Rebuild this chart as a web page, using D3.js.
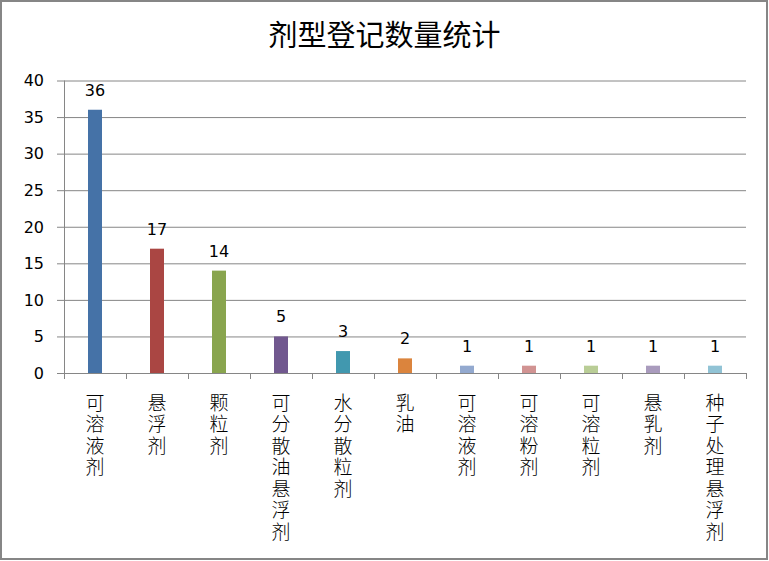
<!DOCTYPE html>
<meta charset="utf-8">
<script src="https://d3js.org/d3.v7.min.js"></script>
<style>
  body { margin: 0; background: #fff; }
  text { fill: #000; }
</style>
<body>
<div id="chart"></div>
<script>
  var categories = ["可溶液剂", "悬浮剂", "颗粒剂", "可分散油悬浮剂", "水分散粒剂", "乳油",
                    "可溶液剂", "可溶粉剂", "可溶粒剂", "悬乳剂", "种子处理悬浮剂"];
  var counts = [36, 17, 14, 5, 3, 2, 1, 1, 1, 1, 1];
  var colors = ["#4572A7", "#AA4643", "#89A54E", "#71588F", "#4198AF", "#DB843D",
                "#93A9CF", "#D19392", "#B9CD96", "#A99BBD", "#91C3D5"];
  var yTicks = [0, 5, 10, 15, 20, 25, 30, 35, 40];

  var W = 769, H = 561;
  var plot = {left: 64, right: 746, top: 80.5, bottom: 373};

  var svg = d3.select("#chart").append("svg")
      .attr("width", W)
      .attr("height", H);

  // outer frame
  svg.append("rect")
    .attr("x", 1).attr("y", 1)
    .attr("width", W - 3).attr("height", H - 3)
    .attr("fill", "#fff")
    .attr("stroke", "#868686")
    .attr("stroke-width", 2);

  // title
  svg.append("text")
    .attr("x", W / 2)
    .attr("y", 46)
    .attr("text-anchor", "middle")
    .style("font-family", "'Noto Sans CJK SC', sans-serif")
    .style("font-size", "29px")
    .text("剂型登记数量统计");

  var x = d3.scaleBand()
    .domain(d3.range(categories.length))
    .range([plot.left, plot.right]);

  var y = d3.scaleLinear()
    .domain([0, 40])
    .range([plot.bottom, plot.top]);

  // gridlines
  svg.append("g").selectAll("line")
    .data(yTicks)
    .enter().append("line")
      .attr("x1", plot.left - 7)
      .attr("x2", plot.right)
      .attr("y1", d => y(d) + 0.5)
      .attr("y2", d => y(d) + 0.5)
      .attr("stroke", "#868686")
      .attr("stroke-width", 1);

  // y tick labels
  svg.append("g").selectAll("text")
    .data(yTicks)
    .enter().append("text")
      .attr("x", 44)
      .attr("y", d => y(d))
      .attr("dy", "0.36em")
      .attr("text-anchor", "end")
      .style("font-family", "'DejaVu Sans', sans-serif")
      .style("font-size", "16px")
      .text(d => d);

  // y axis line
  svg.append("line")
    .attr("x1", plot.left + 0.5).attr("x2", plot.left + 0.5)
    .attr("y1", plot.top).attr("y2", plot.bottom + 0.5)
    .attr("stroke", "#868686");

  // x axis tick marks at band edges
  var edges = d3.range(categories.length).map(i => x(i)).concat([x.range()[1]]);
  svg.append("g").selectAll("line")
    .data(edges)
    .enter().append("line")
      .attr("x1", d => Math.round(d) + 0.5)
      .attr("x2", d => Math.round(d) + 0.5)
      .attr("y1", plot.bottom)
      .attr("y2", plot.bottom + 6)
      .attr("stroke", "#868686");

  // bars
  var barW = 14;
  svg.append("g").selectAll("rect")
    .data(counts)
    .enter().append("rect")
      .attr("x", (d, i) => x(i) + x.bandwidth() / 2 - barW / 2)
      .attr("y", d => y(d))
      .attr("width", barW)
      .attr("height", d => y(0) - y(d))
      .attr("fill", (d, i) => colors[i]);

  // value labels
  svg.append("g").selectAll("text")
    .data(counts)
    .enter().append("text")
      .attr("x", (d, i) => x(i) + x.bandwidth() / 2)
      .attr("y", d => y(d) - 14)
      .attr("text-anchor", "middle")
      .style("font-family", "'DejaVu Sans', sans-serif")
      .style("font-size", "16px")
      .text(d => d);

  // vertical category labels, one character per line
  var labels = svg.append("g").selectAll("text")
    .data(categories)
    .enter().append("text")
      .attr("text-anchor", "middle")
      .style("font-family", "'Noto Sans CJK SC', sans-serif")
      .style("font-size", "19px")
      .style("font-weight", "300");

  labels.each(function(d, i) {
    var t = d3.select(this);
    var cx = x(i) + x.bandwidth() / 2;
    d.split("").forEach(function(ch, j) {
      t.append("tspan")
        .attr("x", cx)
        .attr("y", 409.5 + j * 21.5)
        .text(ch);
    });
  });
</script>
</body>
</html>
